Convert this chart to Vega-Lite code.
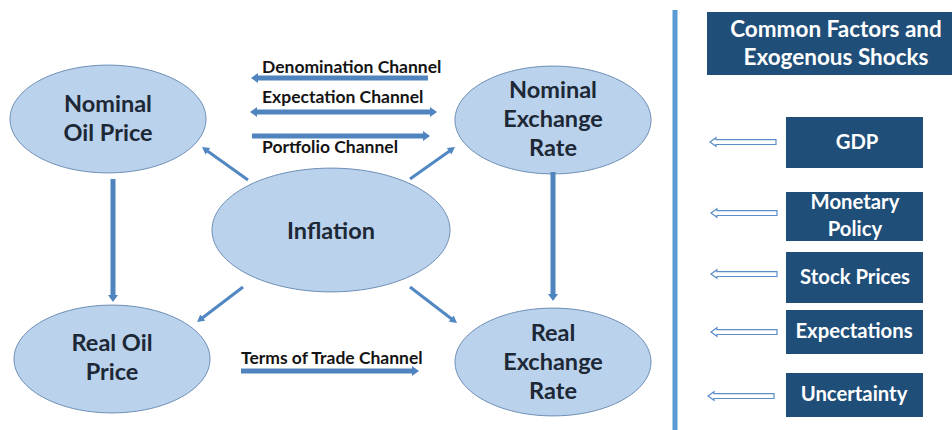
{
  "$schema": "https://vega.github.io/schema/vega-lite/v6.json",
  "width": 952,
  "height": 430,
  "padding": 0,
  "autosize": "none",
  "background": "white",
  "config": {"view": {"stroke": null}, "text": {"font": "Lato"}},
  "datasets": {
    "nodes": [
      {"label": "Nominal\nOil Price", "x": 108, "y": 119, "ty": 105, "kind": "node"},
      {"label": "Nominal\nExchange\nRate", "x": 553, "y": 120, "ty": 91, "kind": "node"},
      {"label": "Inflation", "x": 331, "y": 230, "ty": 232, "kind": "hub"},
      {"label": "Real Oil\nPrice", "x": 112, "y": 359, "ty": 344, "kind": "node"},
      {"label": "Real\nExchange\nRate", "x": 553, "y": 362, "ty": 334, "kind": "node"}
    ],
    "shafts": [
      {"x": 428, "y": 78, "x2": 258, "y2": 78, "w": "thick"},
      {"x": 257, "y": 112, "x2": 430, "y2": 112, "w": "thick"},
      {"x": 252, "y": 136, "x2": 423, "y2": 136, "w": "thick"},
      {"x": 241, "y": 371, "x2": 412, "y2": 371, "w": "thick"},
      {"x": 113, "y": 179, "x2": 113, "y2": 295, "w": "thick"},
      {"x": 553, "y": 172, "x2": 553, "y2": 294, "w": "thick"},
      {"x": 248, "y": 180, "x2": 206, "y2": 150, "w": "thin"},
      {"x": 410, "y": 179, "x2": 451, "y2": 150, "w": "thin"},
      {"x": 243, "y": 287, "x2": 201, "y2": 319, "w": "thin"},
      {"x": 410, "y": 287, "x2": 453, "y2": 320, "w": "thin"}
    ],
    "heads": [
      {"x": 251, "y": 78, "dir": 270, "w": "thick"},
      {"x": 250, "y": 112, "dir": 270, "w": "thick"},
      {"x": 437, "y": 112, "dir": 90, "w": "thick"},
      {"x": 430, "y": 136, "dir": 90, "w": "thick"},
      {"x": 419, "y": 371, "dir": 90, "w": "thick"},
      {"x": 113, "y": 302, "dir": 180, "w": "thick"},
      {"x": 553, "y": 301, "dir": 180, "w": "thick"},
      {"x": 202, "y": 147, "dir": 305.7, "w": "thin"},
      {"x": 455, "y": 147, "dir": 54.6, "w": "thin"},
      {"x": 197, "y": 322, "dir": 232.7, "w": "thin"},
      {"x": 457, "y": 323, "dir": 127.5, "w": "thin"}
    ],
    "channels": [
      {"label": "Denomination Channel", "x": 262, "y": 73},
      {"label": "Expectation Channel", "x": 262, "y": 103},
      {"label": "Portfolio Channel", "x": 262, "y": 153},
      {"label": "Terms of Trade Channel", "x": 241, "y": 364}
    ],
    "divider": [{"x": 675, "y": 10, "y2": 430}],
    "boxes": [
      {"label": "Common Factors  and\nExogenous Shocks", "x": 707, "x2": 952, "y": 12, "y2": 75, "cx": 836, "ty": 30, "kind": "title"},
      {"label": "GDP", "x": 786, "x2": 923, "y": 117, "y2": 168, "cx": 857, "ty": 143, "kind": "item"},
      {"label": "Monetary\nPolicy", "x": 786, "x2": 923, "y": 192, "y2": 241, "cx": 855, "ty": 203, "kind": "item"},
      {"label": "Stock Prices", "x": 786, "x2": 923, "y": 252, "y2": 303, "cx": 855, "ty": 278, "kind": "item"},
      {"label": "Expectations", "x": 786, "x2": 923, "y": 310, "y2": 354, "cx": 854, "ty": 332, "kind": "item"},
      {"label": "Uncertainty", "x": 786, "x2": 923, "y": 373, "y2": 417, "cx": 854, "ty": 395, "kind": "item"}
    ],
    "hollow": [
      {"x": 743, "y": 142},
      {"x": 744, "y": 213},
      {"x": 744, "y": 274},
      {"x": 744, "y": 332},
      {"x": 741, "y": 396}
    ]
  },
  "layer": [
    {
      "data": {"name": "divider"},
      "mark": {"type": "rule", "color": "#5b9bd5", "strokeWidth": 5},
      "encoding": {
        "x": {"field": "x", "type": "quantitative", "scale": {"domain": [0, 952], "nice": false, "zero": false}, "axis": null},
        "y": {"field": "y", "type": "quantitative", "scale": {"domain": [0, 430], "nice": false, "zero": false, "reverse": true}, "axis": null},
        "y2": {"field": "y2"}
      }
    },
    {
      "data": {"name": "nodes"},
      "mark": {"type": "point", "filled": true, "fill": "#bad2eb", "stroke": "#6e8fb6", "strokeWidth": 1, "opacity": 1},
      "encoding": {
        "x": {"field": "x", "type": "quantitative", "scale": {"domain": [0, 952], "nice": false, "zero": false}, "axis": null},
        "y": {"field": "y", "type": "quantitative", "scale": {"domain": [0, 430], "nice": false, "zero": false, "reverse": true}, "axis": null},
        "shape": {"field": "kind", "type": "nominal", "legend": null, "scale": {"domain": ["node", "hub"], "range": ["M-1,0C-1,-0.304,-0.552,-0.55,0,-0.55C0.552,-0.55,1,-0.304,1,0C1,0.304,0.552,0.55,0,0.55C-0.552,0.55,-1,0.304,-1,0Z", "M-1,0C-1,-0.287,-0.552,-0.52,0,-0.52C0.552,-0.52,1,-0.287,1,0C1,0.287,0.552,0.52,0,0.52C-0.552,0.52,-1,0.287,-1,0Z"]}},
        "size": {"field": "kind", "type": "nominal", "legend": null, "scale": {"domain": ["node", "hub"], "range": [38416, 56644]}}
      }
    },
    {
      "data": {"name": "shafts"},
      "transform": [{"filter": "datum.w === 'thick'"}],
      "mark": {"type": "rule", "color": "#4f84be", "strokeWidth": 5},
      "encoding": {
        "x": {"field": "x", "type": "quantitative", "scale": {"domain": [0, 952], "nice": false, "zero": false}, "axis": null},
        "y": {"field": "y", "type": "quantitative", "scale": {"domain": [0, 430], "nice": false, "zero": false, "reverse": true}, "axis": null},
        "x2": {"field": "x2"},
        "y2": {"field": "y2"}
      }
    },
    {
      "data": {"name": "shafts"},
      "transform": [{"filter": "datum.w === 'thin'"}],
      "mark": {"type": "rule", "color": "#5288c2", "strokeWidth": 3},
      "encoding": {
        "x": {"field": "x", "type": "quantitative", "scale": {"domain": [0, 952], "nice": false, "zero": false}, "axis": null},
        "y": {"field": "y", "type": "quantitative", "scale": {"domain": [0, 430], "nice": false, "zero": false, "reverse": true}, "axis": null},
        "x2": {"field": "x2"},
        "y2": {"field": "y2"}
      }
    },
    {
      "data": {"name": "heads"},
      "transform": [{"filter": "datum.w === 'thick'"}],
      "mark": {"type": "point", "shape": "M0,0L-1,1.4L1,1.4Z", "size": 100, "filled": true, "fill": "#4f84be", "strokeWidth": 0, "opacity": 1},
      "encoding": {
        "x": {"field": "x", "type": "quantitative", "scale": {"domain": [0, 952], "nice": false, "zero": false}, "axis": null},
        "y": {"field": "y", "type": "quantitative", "scale": {"domain": [0, 430], "nice": false, "zero": false, "reverse": true}, "axis": null},
        "angle": {"field": "dir", "type": "quantitative", "scale": null}
      }
    },
    {
      "data": {"name": "heads"},
      "transform": [{"filter": "datum.w === 'thin'"}],
      "mark": {"type": "point", "shape": "M0,0L-1,1.8L1,1.8Z", "size": 64, "filled": true, "fill": "#5288c2", "strokeWidth": 0, "opacity": 1},
      "encoding": {
        "x": {"field": "x", "type": "quantitative", "scale": {"domain": [0, 952], "nice": false, "zero": false}, "axis": null},
        "y": {"field": "y", "type": "quantitative", "scale": {"domain": [0, 430], "nice": false, "zero": false, "reverse": true}, "axis": null},
        "angle": {"field": "dir", "type": "quantitative", "scale": null}
      }
    },
    {
      "data": {"name": "nodes"},
      "mark": {"type": "text", "align": "center", "baseline": "middle", "fontSize": 23.5, "fontWeight": "bold", "lineHeight": 29, "color": "#1d2836", "lineBreak": "\n"},
      "encoding": {
        "x": {"field": "x", "type": "quantitative", "scale": {"domain": [0, 952], "nice": false, "zero": false}, "axis": null},
        "y": {"field": "ty", "type": "quantitative", "scale": {"domain": [0, 430], "nice": false, "zero": false, "reverse": true}, "axis": null},
        "text": {"field": "label"}
      }
    },
    {
      "data": {"name": "channels"},
      "mark": {"type": "text", "align": "left", "baseline": "alphabetic", "fontSize": 17.5, "fontWeight": "bold", "color": "#141414"},
      "encoding": {
        "x": {"field": "x", "type": "quantitative", "scale": {"domain": [0, 952], "nice": false, "zero": false}, "axis": null},
        "y": {"field": "y", "type": "quantitative", "scale": {"domain": [0, 430], "nice": false, "zero": false, "reverse": true}, "axis": null},
        "text": {"field": "label"}
      }
    },
    {
      "data": {"name": "boxes"},
      "mark": {"type": "rect", "color": "#1f4e79"},
      "encoding": {
        "x": {"field": "x", "type": "quantitative", "scale": {"domain": [0, 952], "nice": false, "zero": false}, "axis": null},
        "y": {"field": "y", "type": "quantitative", "scale": {"domain": [0, 430], "nice": false, "zero": false, "reverse": true}, "axis": null},
        "x2": {"field": "x2"},
        "y2": {"field": "y2"}
      }
    },
    {
      "data": {"name": "boxes"},
      "transform": [{"filter": "datum.kind === 'title'"}],
      "mark": {"type": "text", "align": "center", "baseline": "middle", "fontSize": 22.5, "fontWeight": "bold", "lineHeight": 28, "color": "#ffffff", "lineBreak": "\n"},
      "encoding": {
        "x": {"field": "cx", "type": "quantitative", "scale": {"domain": [0, 952], "nice": false, "zero": false}, "axis": null},
        "y": {"field": "ty", "type": "quantitative", "scale": {"domain": [0, 430], "nice": false, "zero": false, "reverse": true}, "axis": null},
        "text": {"field": "label"}
      }
    },
    {
      "data": {"name": "boxes"},
      "transform": [{"filter": "datum.kind === 'item'"}],
      "mark": {"type": "text", "align": "center", "baseline": "middle", "fontSize": 20.3, "fontWeight": "bold", "lineHeight": 27, "color": "#ffffff", "lineBreak": "\n"},
      "encoding": {
        "x": {"field": "cx", "type": "quantitative", "scale": {"domain": [0, 952], "nice": false, "zero": false}, "axis": null},
        "y": {"field": "ty", "type": "quantitative", "scale": {"domain": [0, 430], "nice": false, "zero": false, "reverse": true}, "axis": null},
        "text": {"field": "label"}
      }
    },
    {
      "data": {"name": "hollow"},
      "mark": {"type": "point", "shape": "M-1,0L-0.82,-0.13L-0.82,-0.075L1,-0.075L1,0.075L-0.82,0.075L-0.82,0.13Z", "size": 4356, "filled": true, "fill": "#ffffff", "stroke": "#5b8ec8", "strokeWidth": 1.2, "opacity": 1},
      "encoding": {
        "x": {"field": "x", "type": "quantitative", "scale": {"domain": [0, 952], "nice": false, "zero": false}, "axis": null},
        "y": {"field": "y", "type": "quantitative", "scale": {"domain": [0, 430], "nice": false, "zero": false, "reverse": true}, "axis": null}
      }
    }
  ]
}
